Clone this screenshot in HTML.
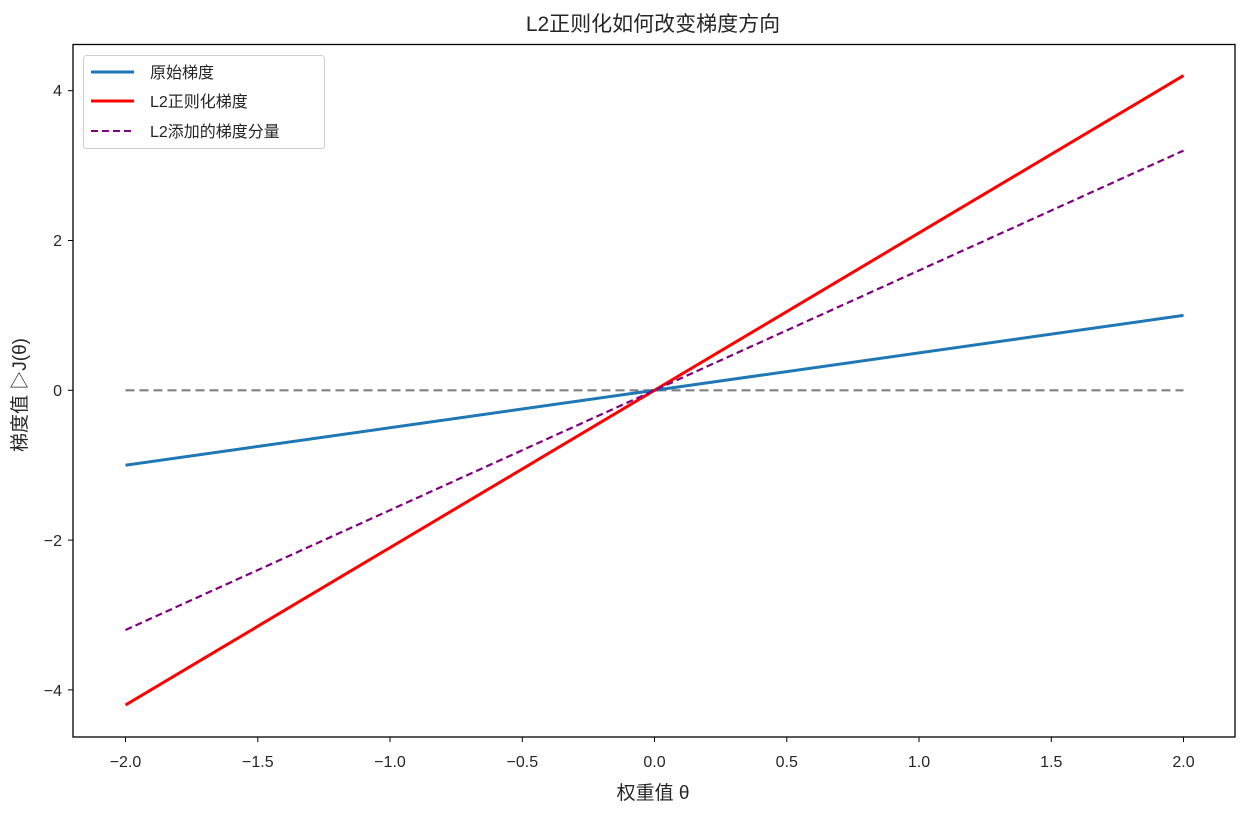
<!DOCTYPE html>
<html><head><meta charset="utf-8"><style>
body{margin:0;background:#fff;}
svg text{font-family:"Liberation Sans","Noto Sans CJK SC",sans-serif;fill:#262626;}
</style></head><body>
<svg width="1252" height="810" xmlns="http://www.w3.org/2000/svg">
<rect width="1252" height="810" fill="#fff"/>
<text x="653" y="31" font-size="21" text-anchor="middle" fill="#000">L2正则化如何改变梯度方向</text>
<g stroke-width="2.2" fill="none">
<line x1="125.5" y1="390.3" x2="1183.5" y2="390.3" stroke="#808080" stroke-dasharray="9,5"/>
<line x1="125.5" y1="465.2" x2="1183.5" y2="315.4" stroke="#1f77b4" stroke-width="3"/>
<line x1="125.5" y1="705" x2="1183.5" y2="75.6" stroke="#ff0000" stroke-width="3"/>
<line x1="125.5" y1="630" x2="1183.5" y2="150.6" stroke="#800080" stroke-dasharray="7,4"/>
</g>
<rect x="73" y="44.5" width="1162" height="692.5" fill="none" stroke="#000" stroke-width="1.3"/>
<g stroke="#000" stroke-width="1">
<line x1="125.5" y1="737" x2="125.5" y2="742"/><line x1="257.8" y1="737" x2="257.8" y2="742"/>
<line x1="390" y1="737" x2="390" y2="742"/><line x1="522.3" y1="737" x2="522.3" y2="742"/>
<line x1="654.5" y1="737" x2="654.5" y2="742"/><line x1="786.8" y1="737" x2="786.8" y2="742"/>
<line x1="919" y1="737" x2="919" y2="742"/><line x1="1051.3" y1="737" x2="1051.3" y2="742"/>
<line x1="1183.5" y1="737" x2="1183.5" y2="742"/>
<line x1="68" y1="90.7" x2="73" y2="90.7"/><line x1="68" y1="240.5" x2="73" y2="240.5"/>
<line x1="68" y1="390.3" x2="73" y2="390.3"/><line x1="68" y1="540.1" x2="73" y2="540.1"/>
<line x1="68" y1="689.9" x2="73" y2="689.9"/>
</g>
<g font-size="16" text-anchor="middle">
<text x="125.5" y="767">−2.0</text><text x="257.8" y="767">−1.5</text><text x="390" y="767">−1.0</text>
<text x="522.3" y="767">−0.5</text><text x="654.5" y="767">0.0</text><text x="786.8" y="767">0.5</text>
<text x="919" y="767">1.0</text><text x="1051.3" y="767">1.5</text><text x="1183.5" y="767">2.0</text>
</g>
<g font-size="16" text-anchor="end">
<text x="62" y="96">4</text><text x="62" y="246">2</text><text x="62" y="396">0</text>
<text x="62" y="546">−2</text><text x="62" y="696">−4</text>
</g>
<text x="653" y="799" font-size="19" text-anchor="middle">权重值 θ</text>
<text transform="translate(26,395) rotate(-90)" font-size="19" text-anchor="middle">梯度值 ▷J(θ)</text>
<rect x="83.5" y="55.5" width="241" height="93" rx="3" fill="#fff" stroke="#d0d0d0" stroke-width="1"/>
<line x1="91" y1="72" x2="134" y2="72" stroke="#1f77b4" stroke-width="3"/>
<line x1="91" y1="101" x2="134" y2="101" stroke="#ff0000" stroke-width="3"/>
<line x1="91" y1="131" x2="134" y2="131" stroke="#800080" stroke-width="2" stroke-dasharray="7,4"/>
<g font-size="16"><text x="150" y="78">原始梯度</text><text x="150" y="107">L2正则化梯度</text><text x="150" y="137">L2添加的梯度分量</text></g>
</svg>
</body></html>
